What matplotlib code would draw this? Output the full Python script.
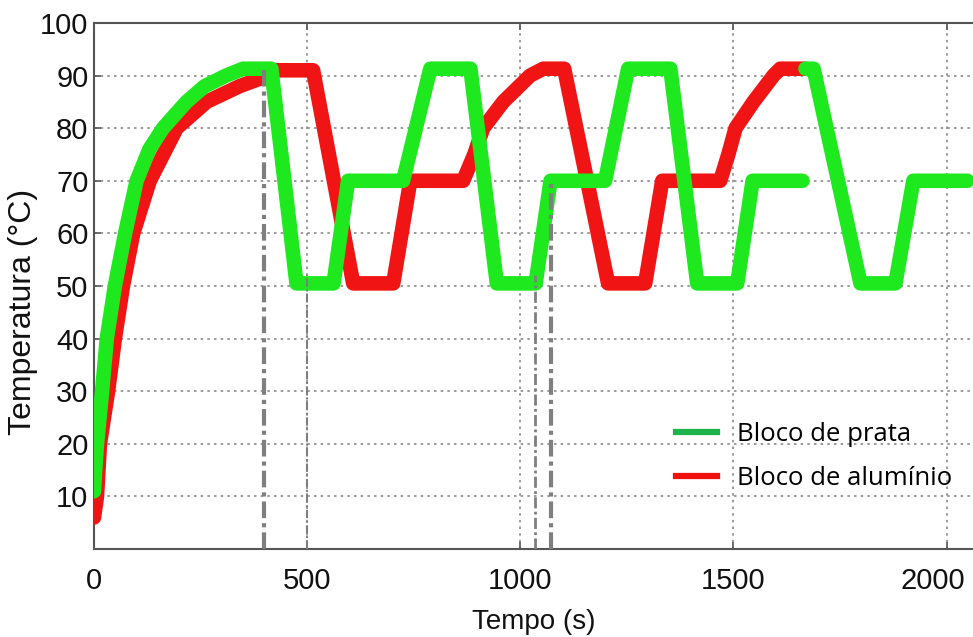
import matplotlib
matplotlib.use('Agg')
import matplotlib.pyplot as plt
import matplotlib.transforms as mtransforms
import numpy as np
from matplotlib.lines import Line2D

plt.rcParams['font.family'] = ['Liberation Sans', 'DejaVu Sans']

# tempo (s) e temperatura (C)
prata_t = [0, 2, 7, 19, 30, 49, 73, 100, 130, 162, 217, 260, 310, 350, 416,
           475, 562, 596, 725, 789, 883, 945, 1036, 1071, 1199, 1253, 1352,
           1415, 1509, 1545, 1662, np.nan, 1669, 1688, 1798, 1880, 1922, 2049]
prata_y = [11, 14, 20, 30, 40, 50, 60, 70, 76, 80, 85, 88, 90, 91.3, 91.3,
           50.5, 50.5, 70, 70, 91.3, 91.3, 50.5, 50.5, 70, 70, 91.3, 91.3,
           50.5, 50.5, 70, 70, np.nan, 91.3, 91.3, 50.5, 50.5, 70, 70]

aluminio_t = [0, 7, 14, 33, 49, 68, 92, 131, 194, 264, 342, 399, 420, 514,
              608, 702, 742, 866, 892, 913, 960, 1023, 1054, 1103, 1206, 1293,
              1333, 1469, 1488, 1505, 1547, 1594, 1610, 1668]
aluminio_y = [6, 10, 20, 30, 40, 50, 60, 70, 80, 85, 88, 89.7, 91, 91,
              50.5, 50.5, 70, 70, 75, 80, 85, 90, 91.3, 91.3, 50.5, 50.5,
              70, 70, 75, 80, 85, 90, 91.3, 91.3]

# linhas verticais tracejadas
marcas_t = [399, 500, 1035, 1073]
marcas_topo = [91, 52, 52, 70]
marcas_lw = [3.0, 1.5, 2.0, 3.0]

xticks = [0, 500, 1000, 1500, 2000]
yticks = [10, 20, 30, 40, 50, 60, 70, 80, 90, 100]

fig = plt.figure(figsize=(9.73, 6.37), dpi=100)
ax = fig.add_axes([0.0966, 0.138, 0.9034, 0.826])

ax.plot(aluminio_t, aluminio_y, color='#f01414', lw=10.5, solid_joinstyle='round',
        solid_capstyle='round', zorder=3)
ax.plot(prata_t, prata_y, color='#1ee81e', lw=10.5, solid_joinstyle='round',
        solid_capstyle='round', zorder=4)

for t, top, lw in zip(marcas_t, marcas_topo, marcas_lw):
    ax.plot([t, t], [0, top], color='#7f7f7f', lw=lw,
            dashes=(4, 1.2, 1, 1.2), zorder=5)

ax.set_xlim(0, 2062)
ax.set_ylim(0, 100)
ax.set_xticks(xticks)
ax.set_yticks(yticks)
ax.tick_params(direction='in', top=True, length=5, width=1.2, colors='#555555',
               labelcolor='#111111', labelsize=21)
ax.tick_params(axis='x', pad=13)
ax.tick_params(axis='y', pad=4)
ax.grid(True, color='#8a8a8a', lw=1.2, linestyle=(0, (1.5, 2.5)))

# o ultimo rotulo do eixo x fica um pouco para a esquerda
last = ax.get_xticklabels()[-1]
last.set_transform(last.get_transform() +
                   mtransforms.ScaledTranslation(-14 / 100, 0, fig.dpi_scale_trans))

for s in ['left', 'bottom', 'top']:
    ax.spines[s].set_color('#555555')
    ax.spines[s].set_linewidth(1.5)
ax.spines['right'].set_visible(False)

ax.set_xlabel('Tempo (s)', fontsize=20, color='#111111', labelpad=10)
ax.set_ylabel('Temperatura (°C)', fontsize=23, color='#111111')
ax.yaxis.set_label_coords(-0.064, 0.45)

handles = [Line2D([], [], color='#1fb24a', lw=4.5),
           Line2D([], [], color='#f01010', lw=4.5)]
fig.legend(handles, ['Bloco de prata', 'Bloco de alumínio'],
           loc='upper left', bbox_to_anchor=(0.695, 0.337), frameon=False,
           prop={'family': 'Open Sans', 'size': 18.5}, handlelength=1.6,
           handletextpad=0.75, labelspacing=0.72, borderpad=0, borderaxespad=0)

fig.savefig('out.png', dpi=100)
